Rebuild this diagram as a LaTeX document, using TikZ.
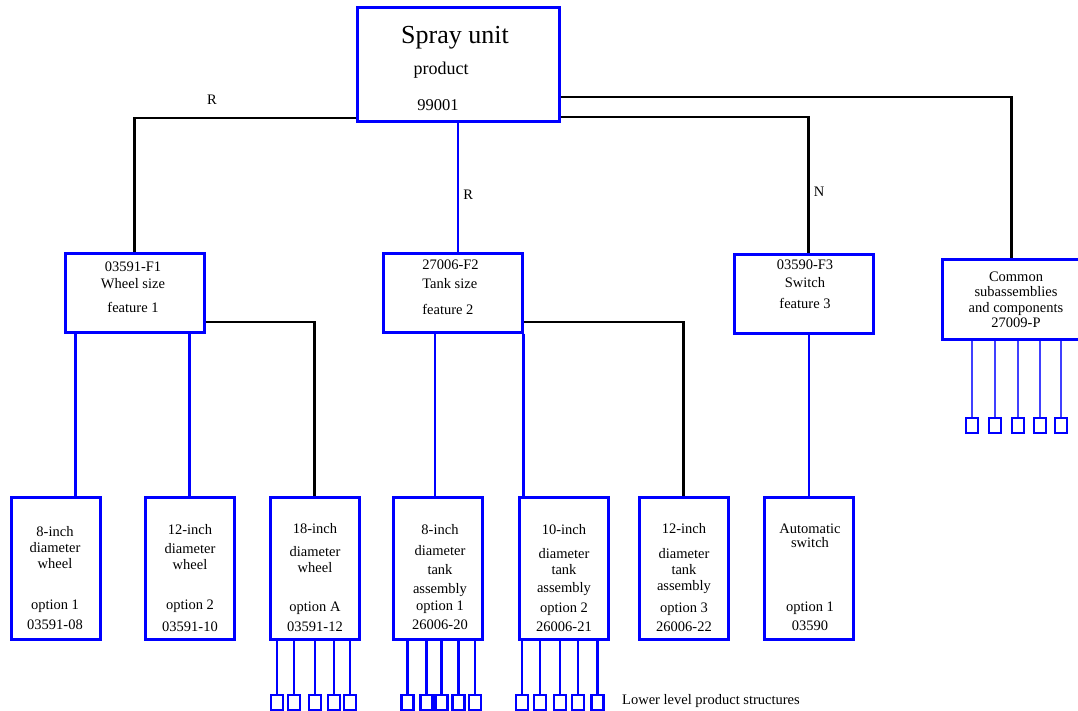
\documentclass[tikz,border=0pt]{standalone}
\usepackage{fontspec}
\setmainfont{Liberation Serif}
\usetikzlibrary{positioning}
\begin{document}
\begin{tikzpicture}[x=1pt, y=-1pt,
    box/.style={draw=blue, line width=3pt, minimum width=139pt, minimum height=78pt, inner sep=0pt},
    optbox/.style={draw=blue, line width=3pt, minimum width=89pt, minimum height=142pt, inner sep=0pt},
    sub/.style={draw=blue, line width=2.6pt, minimum width=12pt, minimum height=15pt, inner sep=0pt},
    txt/.style={text=black, font=\fontsize{14.5}{16}\selectfont, align=center, inner sep=0pt},
    link/.style={black, line width=2.5pt},
    optlink/.style={blue, line width=2.8pt},
    comlink/.style={blue!75, line width=1.5pt}]

    \useasboundingbox (0,0) rectangle (1078,711);
    \clip (0,0) rectangle (1078,711);

    % product
    \node[draw=blue, line width=3pt, minimum width=202pt, minimum height=114pt] (prod) at (458,65) {};
    \node[font=\fontsize{26}{30}\selectfont] (prodname) at (455,37.5) {Spray unit};
    \node[font=\fontsize{18}{20}\selectfont] (prodkind) at (441,70.5) {product};
    \node[font=\fontsize{16.5}{20}\selectfont] (prodnum) at (438,105) {99001};

    % features
    \node[box] (f1) at (134.5,293) {};
    \node[txt] (f1txt) at (133,287.5) {03591-F1\\[1pt]Wheel size\\[8pt]feature 1};
    \node[box] (f2) at (452.5,293) {};
    \node[txt, align=left] (f2txt) at (450.5,287.5) {27006-F2\\[3pt]Tank size\\[10pt]feature 2};
    \node[box] (f3) at (803.5,294) {};
    \node[txt] (f3txt) at (805,284.5) {03590-F3\\[2pt]Switch\\[5pt]feature 3};
    \node[box, minimum height=79pt] (com) at (1011.5,299.5) {};
    \node[txt] (comtxt) at (1016,300) {Common\\[-0.5pt]subassemblies\\[-0.5pt]and components\\[-0.5pt]27009-P};

    % options
    \node[optbox] (opt1) at (55.5,568) {};
    \node[txt] (opt1txt) at (55,578) {8-inch\\diameter\\wheel\\[25pt]option 1\\[4pt]03591-08};
    \node[optbox] (opt2) at (189.5,568) {};
    \node[txt] (opt2txt) at (190,578.5) {12-inch\\[3pt]diameter\\wheel\\[24pt]option 2\\[6pt]03591-10};
    \node[optbox] (opt3) at (314.5,568) {};
    \node[txt] (opt3txt) at (315,577.5) {18-inch\\[7pt]diameter\\wheel\\[23pt]option A\\[4pt]03591-12};
    \node[optbox] (opt4) at (438,568) {};
    \node[txt] (opt4txt) at (440,577.5) {8-inch\\[5pt]diameter\\[3pt]tank\\[3pt]assembly\\[1pt]option 1\\[3pt]26006-20};
    \node[optbox] (opt5) at (563.5,568) {};
    \node[txt] (opt5txt) at (564,578.5) {10-inch\\[8pt]diameter\\tank\\[2pt]assembly\\[4pt]option 2\\[3pt]26006-21};
    \node[optbox] (opt6) at (683.5,568) {};
    \node[txt] (opt6txt) at (684,578) {12-inch\\[9pt]diameter\\tank\\assembly\\[6pt]option 3\\[3pt]26006-22};
    \node[optbox] (opt7) at (809,568) {};
    \node[txt] (opt7txt) at (810,577.5) {Automatic\\[-2pt]switch\\[48pt]option 1\\[3pt]03590};

    % product to features
    \draw[link] ([yshift=-53pt]prod.west) -| node[txt, pos=0.325, above=12pt] (r1) {R} (f1.north);
    \draw[optlink] (prod.south) -- node[txt, pos=0.55, right=4pt] (r2) {R} (prod.south |- f2.north);
    \draw[link] ([yshift=-52pt]prod.east) -| node[txt, pos=0.775, right=4pt] (n3) {N} ([xshift=5pt]f3.north);
    \draw[link] ([yshift=-32pt]prod.east) -| (com.north);

    % features to options
    \draw[optlink] ([xshift=20pt]f1.south -| opt1.north) -- ([xshift=20pt]opt1.north);
    \draw[optlink] (f1.south -| opt2.north) -- (opt2.north);
    \draw[link] ([yshift=-29pt]f1.east) -| (opt3.north);
    \draw[optlink] ([xshift=-3pt]f2.south -| opt4.north) -- ([xshift=-3pt]opt4.north);
    \draw[optlink] (f2.south east) -- (f2.south east |- opt5.north);
    \draw[link] ([yshift=-29pt]f2.east) -| (opt6.north);
    \draw[optlink] (f3.south -| opt7.north) -- (opt7.north);

    % lower level structures
    \foreach \x [count=\i] in {277,294,315,334,350} {
        \node[sub] (a\i) at (\x,702.5) {};
        \draw[optlink] (opt3.south -| a\i.north) -- (a\i.north);
    }
    \foreach \x [count=\i] in {407.5,426.5,441.5,458.5,475} {
        \node[sub] (b\i) at (\x,702.5) {};
        \draw[optlink] (opt4.south -| b\i.north) -- (b\i.north);
    }
    \foreach \x [count=\i] in {522,540,560,578,597.5} {
        \node[sub] (c\i) at (\x,702.5) {};
        \draw[optlink] (opt5.south -| c\i.north) -- (c\i.north);
    }
    \foreach \x [count=\i] in {972,995,1018,1040,1061} {
        \node[sub] (d\i) at (\x,425.5) {};
        \draw[comlink] (com.south -| d\i.north) -- (d\i.north);
    }

    \node[txt, anchor=west] (lower) at (622,701) {Lower level product structures};

\end{tikzpicture}
\end{document}
